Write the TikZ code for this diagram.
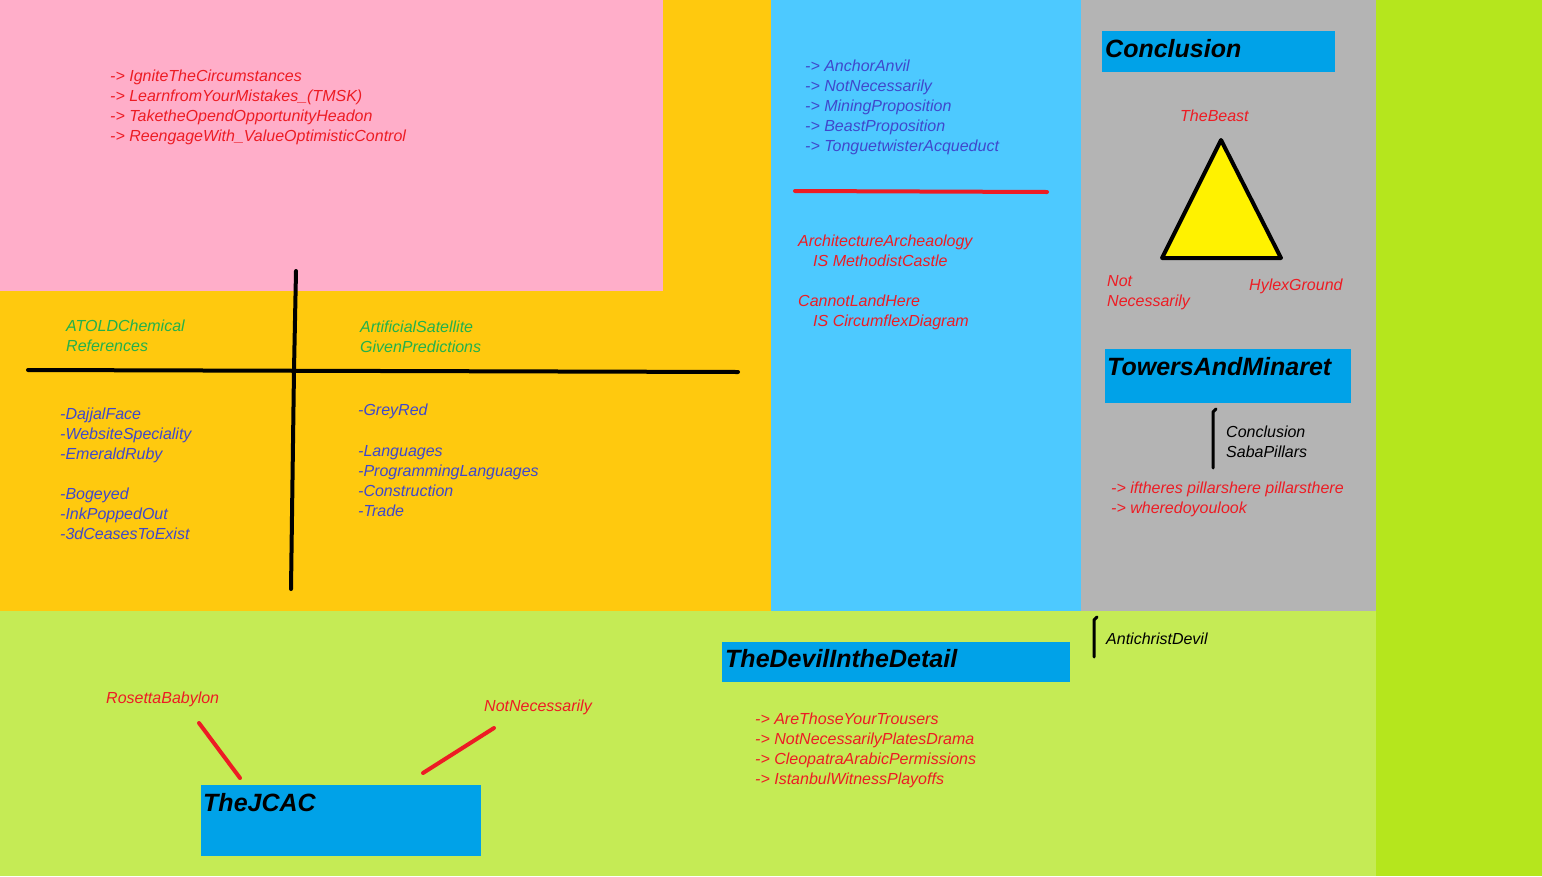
\documentclass[tikz,border=0pt]{standalone}
\usepackage{fontspec}
\setmainfont{Liberation Sans}
\definecolor{pinkbg}{HTML}{FFAEC9}
\definecolor{goldbg}{HTML}{FFC90E}
\definecolor{skybg}{HTML}{4DC9FF}
\definecolor{greybg}{HTML}{B4B4B4}
\definecolor{softlime}{HTML}{C5EB55}
\definecolor{limebg}{HTML}{B5E61D}
\definecolor{boxblue}{HTML}{00A2E8}
\definecolor{paintred}{HTML}{ED1C24}
\definecolor{indigo}{HTML}{3F48CC}
\definecolor{leafgreen}{HTML}{22B14C}
\definecolor{paintyellow}{HTML}{FFF200}
\tikzset{
  note/.style={anchor=base west, inner sep=0pt, font=\itshape\fontsize{16}{20}\selectfont},
  heading/.style={anchor=base west, inner sep=0pt, font=\bfseries\itshape\fontsize{25}{28}\selectfont},
  stroke/.style={line width=4pt, line cap=round},
  bracket/.style={line width=3pt, line cap=round, line join=round}
}
\begin{document}
\begin{tikzpicture}[x=1pt,y=-1pt]
    \useasboundingbox (0,0) rectangle (1542,876);
    % coloured areas
    \fill[limebg](0,0)rectangle(1542,876);
    \fill[softlime](0,611)rectangle(1376,876);
    \fill[goldbg](0,0)rectangle(771,611);
    \fill[pinkbg](0,0)rectangle(663,291);
    \fill[skybg](771,0)rectangle(1081,611);
    \fill[greybg](1081,0)rectangle(1376,611);
    % pink corner
    \foreach \t [count=\i] in {-> IgniteTheCircumstances, -> LearnfromYourMistakes\_(TMSK),
        -> TaketheOpendOpportunityHeadon, -> ReengageWith\_ValueOptimisticControl}
      \node[note, text=paintred] (ignite\i) at (110,{61+20*\i}) {\t};
    % cross
    \draw[stroke](28,370)--(738,372);
    \draw[stroke](296,271)--(294,370)--(291,589);
    \node[note, text=leafgreen] (atold) at (66,331) {ATOLDChemical};
    \node[note, text=leafgreen] (refs) at (66,351) {References};
    \node[note, text=leafgreen] (satellite) at (360,332) {ArtificialSatellite};
    \node[note, text=leafgreen] (predict) at (360,352) {GivenPredictions};
    \foreach \t/\y [count=\i] in {-DajjalFace/419, -WebsiteSpeciality/439, -EmeraldRuby/459,
        -Bogeyed/499, -InkPoppedOut/519, -3dCeasesToExist/539}
      \node[note, text=indigo] (dajjal\i) at (60,\y) {\t};
    \foreach \t/\y [count=\i] in {-GreyRed/415, -Languages/456, -ProgrammingLanguages/476,
        -Construction/496, -Trade/516}
      \node[note, text=indigo] (grey\i) at (358,\y) {\t};
    % blue column
    \foreach \t [count=\i] in {-> AnchorAnvil, -> NotNecessarily, -> MiningProposition,
        -> BeastProposition, -> TonguetwisterAcqueduct}
      \node[note, text=indigo] (anchor\i) at (805,{51+20*\i}) {\t};
    \draw[stroke, paintred](795,191)--(1047,192);
    \node[note, text=paintred] (archi) at (798,246) {ArchitectureArcheaology};
    \node[note, text=paintred] (methodist) at (813,266) {IS MethodistCastle};
    \node[note, text=paintred] (cannot) at (798,306) {CannotLandHere};
    \node[note, text=paintred] (circum) at (813,326) {IS CircumflexDiagram};
    % grey column
    \fill[boxblue](1102,31)rectangle(1335,72);
    \node[heading] (conclusion) at (1105,57) {Conclusion};
    \draw[line width=4pt, line join=round, fill=paintyellow](1221,140)--(1281,258)--(1162,258)--cycle;
    \node[note, text=paintred] (beast) at (1180,121) {TheBeast};
    \node[note, text=paintred] (not) at (1107,286) {Not};
    \node[note, text=paintred] (necess) at (1107,306) {Necessarily};
    \node[note, text=paintred] (hylex) at (1249,290) {HylexGround};
    \fill[boxblue](1105,349)rectangle(1351,403);
    \node[heading] (towers) at (1107,375) {TowersAndMinaret};
    \draw[bracket](1216,409)--(1213,412)--(1213,468);
    \node[note] (conclsub) at (1226,437) {Conclusion};
    \node[note] (saba) at (1226,457) {SabaPillars};
    \node[note, text=paintred] (iftheres) at (1111,493) {-> iftheres pillarshere pillarsthere};
    \node[note, text=paintred] (where) at (1111,513) {-> wheredoyoulook};
    % bottom strip
    \draw[bracket](1097,617)--(1094,620)--(1094,657);
    \node[note] (antichrist) at (1106,644) {AntichristDevil};
    \fill[boxblue](722,642)rectangle(1070,682);
    \node[heading] (devil) at (725,667) {TheDevilIntheDetail};
    \foreach \t [count=\i] in {-> AreThoseYourTrousers, -> NotNecessarilyPlatesDrama,
        -> CleopatraArabicPermissions, -> IstanbulWitnessPlayoffs}
      \node[note, text=paintred] (trousers\i) at (755,{704+20*\i}) {\t};
    \fill[boxblue](201,785)rectangle(481,856);
    \node[heading] (jcac) at (203,811) {TheJCAC};
    \node[note, text=paintred] (rosetta) at (106,703) {RosettaBabylon};
    \node[note, text=paintred] (notnec) at (484,711) {NotNecessarily};
    \draw[stroke, paintred](199,723)--(240,778);
    \draw[stroke, paintred](494,728)--(423,773);
\end{tikzpicture}
\end{document}
